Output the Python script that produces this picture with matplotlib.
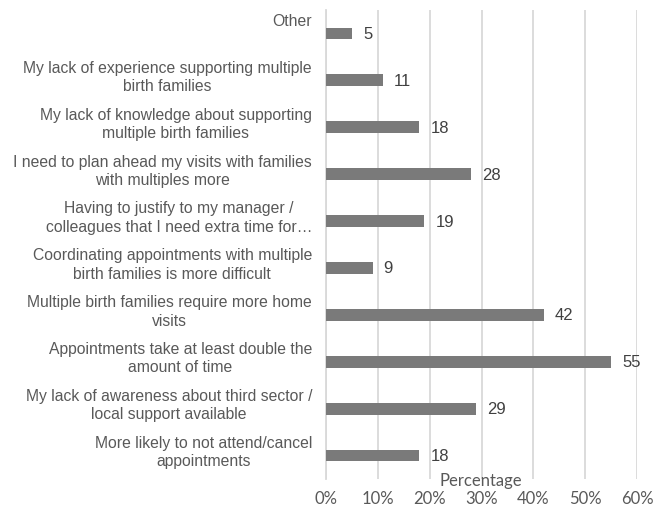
import matplotlib
matplotlib.use("Agg")
import matplotlib.pyplot as plt
import matplotlib.transforms as mtransforms

categories = [
    "Other",
    "My lack of experience supporting multiple\nbirth families",
    "My lack of knowledge about supporting\nmultiple birth families",
    "I need to plan ahead my visits with families\nwith multiples more",
    "Having to justify to my manager /\ncolleagues that I need extra time for\u2026",
    "Coordinating appointments with multiple\nbirth families is more difficult",
    "Multiple birth families require more home\nvisits",
    "Appointments take at least double the\namount of time",
    "My lack of awareness about third sector /\nlocal support available",
    "More likely to not attend/cancel\nappointments",
]
values = [5, 11, 18, 28, 19, 9, 42, 55, 29, 18]
xticks = [0, 10, 20, 30, 40, 50, 60]
xticklabels = ["0%", "10%", "20%", "30%", "40%", "50%", "60%"]
xlabel = "Percentage"

fig = plt.figure(figsize=(6.54, 5.06), dpi=100)
ax = fig.add_axes([326/654, 1 - 480/506, (637-326)/654, (480-11)/506])

ypos = list(range(len(categories)))
ax.barh(ypos, values, height=0.25, color="#7a7a7a", zorder=3)
ax.set_ylim(len(categories) - 0.5, -0.5)
ax.set_xlim(0, 60)

ax.set_xticks(xticks)
ax.set_xticklabels(xticklabels, fontfamily="Lato", fontsize=12, color="#595959")
ax.tick_params(axis="x", length=0, pad=8)
ax.set_yticks([])
ax.grid(axis="x", color="#d9d9d9", linewidth=1.3, zorder=0)
for s in ["top", "right", "bottom"]:
    ax.spines[s].set_visible(False)
ax.spines["left"].set_color("#d9d9d9")
ax.spines["left"].set_linewidth(1.3)

lab_trans = mtransforms.offset_copy(ax.get_yaxis_transform(), fig=fig, x=-14, y=0, units="dots")
for i, (c, v) in enumerate(zip(categories, values)):
    ax.text(0, i - 0.44, c, transform=lab_trans, ha="right", va="top",
            multialignment="center", fontfamily="Liberation Sans", fontsize=11.3,
            color="#595959", linespacing=1.28)
    ax.annotate(str(v), xy=(v, i), xytext=(11, 0), textcoords="offset pixels",
                ha="left", va="center", fontfamily="Liberation Sans", fontsize=12,
                color="#404040")

fig.text(481/654, 1 - 481/506, xlabel, ha="center", va="center",
         fontfamily="Lato", fontsize=12, color="#595959")

fig.savefig("out.png", dpi=100)
